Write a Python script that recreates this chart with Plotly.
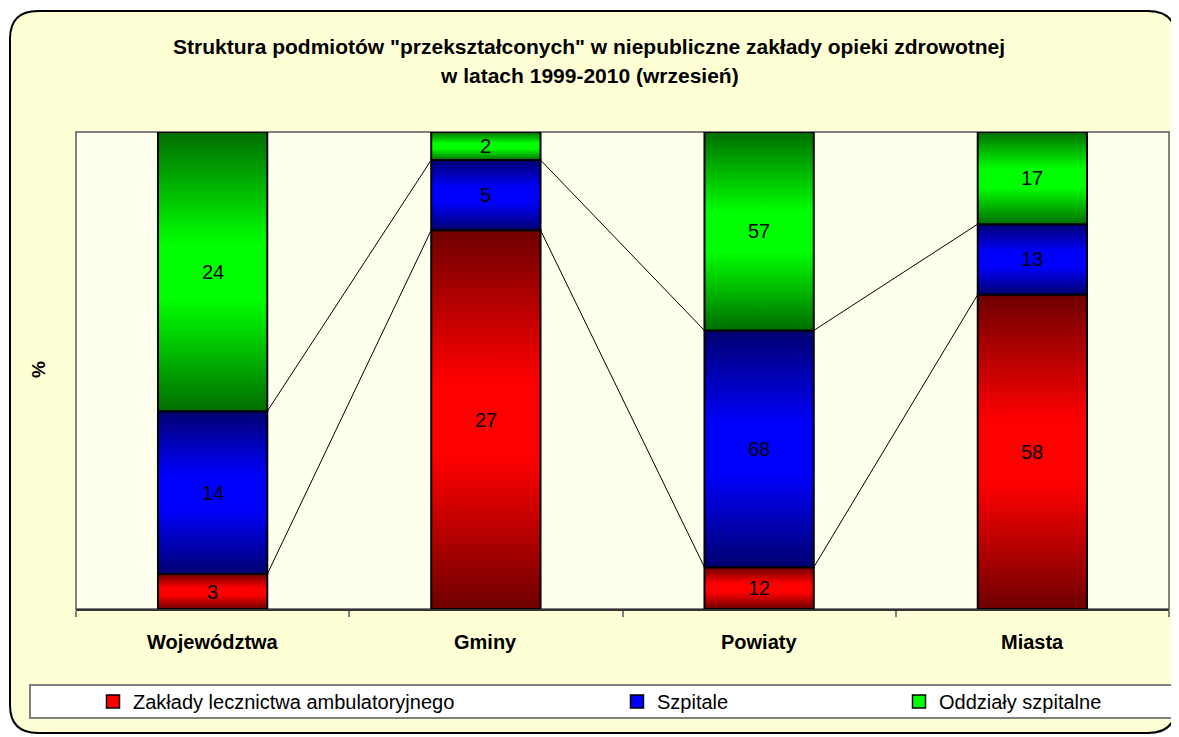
import plotly.graph_objects as go

categories = ["Województwa", "Gminy", "Powiaty", "Miasta"]
series_names = ["Zakłady lecznictwa ambulatoryjnego", "Szpitale", "Oddziały szpitalne"]
ambulatoryjne = [3, 27, 12, 58]
szpitale = [14, 5, 68, 13]
oddzialy = [24, 2, 57, 17]
series_values = [ambulatoryjne, szpitale, oddzialy]

title_line1 = 'Struktura podmiotów "przekształconych" w niepubliczne zakłady opieki zdrowotnej'
title_line2 = "w latach 1999-2010 (wrzesień)"

bright = ["#FF0000", "#0000FF", "#00FF00"]
dark = ["#6E0000", "#000070", "#006E00"]

# page body has an 8px margin; design in reference-pixel space and shift
OFF = 8
W, H = 1179 - OFF, 737 - OFF
L, R, T, B = 76 - OFF, 10, 132 - OFF, 737 - 609
PW, PH = W - L - R, H - T - B


def px(x):
    return (x - OFF - L) / PW


def py(y):
    return (H - B - (y - OFF)) / PH


FONT = "Arial, Liberation Sans"
BAR_W = 0.4
fig = go.Figure()

totals = [sum(s[i] for s in series_values) for i in range(len(categories))]
tops = []
annotations = []
for i, cat in enumerate(categories):
    base = 0.0
    col_tops = []
    for k, vals in enumerate(series_values):
        h = vals[i] / totals[i] * 100
        b, t = base, base + h
        x0, x1 = i - BAR_W / 2, i + BAR_W / 2
        fig.add_trace(go.Scatter(
            x=[x0, x1, x1, x0, x0], y=[b, b, t, t, b],
            mode="lines", fill="toself",
            fillgradient=dict(type="vertical",
                              colorscale=[[0, dark[k]], [0.4, bright[k]], [0.6, bright[k]], [1, dark[k]]]),
            line=dict(color="black", width=2),
            showlegend=False, hoverinfo="skip"))
        annotations.append(dict(x=i, y=(b + t) / 2, xref="x", yref="y", text=str(vals[i]),
                                xanchor="center", yanchor="middle",
                                showarrow=False, font=dict(family=FONT, size=20, color="black")))
        col_tops.append(t)
        base = t
    tops.append(col_tops)

# series lines between bars
for k in range(2):
    for i in range(len(categories) - 1):
        fig.add_trace(go.Scatter(
            x=[i + BAR_W / 2, i + 1 - BAR_W / 2], y=[tops[i][k], tops[i + 1][k]],
            mode="lines", line=dict(color="black", width=1),
            showlegend=False, hoverinfo="skip"))

# legend entries
legend_left_px = [93, 617, 899]
for k in range(3):
    lg = "legend" if k == 0 else f"legend{k + 1}"
    fig.add_trace(go.Scatter(
        x=[None], y=[None], mode="markers", name=series_names[k],
        marker=dict(symbol="square", size=13, color=bright[k], line=dict(color="black", width=1.5)),
        legend=lg, showlegend=True))

legend_font = dict(family=FONT, size=20, color="black")
leg_common = dict(orientation="h", yanchor="middle", y=py(701.5), xanchor="left",
                  bgcolor="rgba(0,0,0,0)", borderwidth=0, font=legend_font)

annotations.append(dict(x=px(589), y=py(47), xref="paper", yref="paper", text="<b>" + title_line1 + "</b>",
                        xanchor="center", yanchor="middle",
                        showarrow=False, font=dict(family=FONT, size=21, color="black")))
annotations.append(dict(x=px(589), y=py(76), xref="paper", yref="paper", text="<b>" + title_line2 + "</b>",
                        xanchor="center", yanchor="middle",
                        showarrow=False, font=dict(family=FONT, size=21, color="black")))
annotations.append(dict(x=px(38), y=py(370), xref="paper", yref="paper", text="<b>%</b>", textangle=-90,
                        xanchor="center", yanchor="middle",
                        showarrow=False, font=dict(family=FONT, size=19, color="black")))
for i, cat in enumerate(categories):
    annotations.append(dict(x=i, y=py(642), xref="x", yref="paper", text="<b>" + cat + "</b>",
                            xanchor="center", yanchor="middle",
                            showarrow=False, font=dict(family=FONT, size=20, color="black")))

# outer rounded frame
l, r, t, b, rad = 10, 1176, 11, 733, 28
path = (f"M {px(l + rad)},{py(t)} L {px(r - rad)},{py(t)} Q {px(r)},{py(t)} {px(r)},{py(t + rad)} "
        f"L {px(r)},{py(b - rad)} Q {px(r)},{py(b)} {px(r - rad)},{py(b)} "
        f"L {px(l + rad)},{py(b)} Q {px(l)},{py(b)} {px(l)},{py(b - rad)} "
        f"L {px(l)},{py(t + rad)} Q {px(l)},{py(t)} {px(l + rad)},{py(t)} Z")
shapes = [
    dict(type="path", path=path, xref="paper", yref="paper", fillcolor="#FFFFD6",
         line=dict(color="black", width=2), layer="below"),
    dict(type="rect", x0=0, x1=1, y0=0, y1=1, xref="paper", yref="paper", fillcolor="#FFFFEE",
         line=dict(color="#808080", width=2), layer="below"),
    dict(type="rect", x0=px(30), x1=px(1190), y0=py(685), y1=py(718), xref="paper", yref="paper",
         fillcolor="white", line=dict(color="#808080", width=2), layer="below"),
]

fig.update_layout(
    width=W, height=H,
    margin=dict(l=L, r=R, t=T, b=B),
    paper_bgcolor="white", plot_bgcolor="rgba(0,0,0,0)",
    xaxis=dict(range=[-0.5, 3.5], showgrid=False, zeroline=False, showline=True, linecolor="#333333",
               linewidth=2, tickvals=[-0.5, 0.5, 1.5, 2.5, 3.5], ticktext=["", "", "", "", ""],
               ticks="outside", ticklen=6, tickcolor="#808080", tickwidth=1.5),
    yaxis=dict(range=[0, 100], showgrid=False, zeroline=False, showticklabels=False, showline=False),
    annotations=annotations, shapes=shapes,
    legend=dict(x=px(legend_left_px[0]), **leg_common),
    legend2=dict(x=px(legend_left_px[1]), **leg_common),
    legend3=dict(x=px(legend_left_px[2]), **leg_common),
)
fig.write_html("out.html")
